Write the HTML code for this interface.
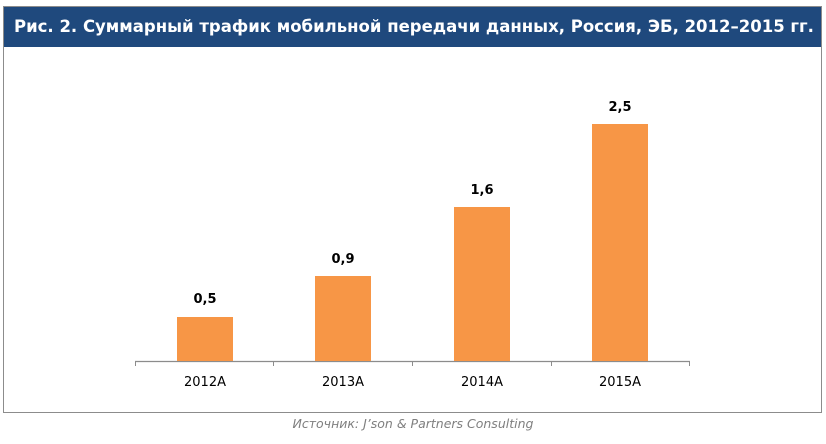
<!DOCTYPE html>
<html><head><meta charset="utf-8"><style>
body{margin:0;width:826px;height:444px;background:#fff;position:relative;overflow:hidden;font-family:"DejaVu Sans","Liberation Sans",sans-serif}
.frame{position:absolute;left:3px;top:6px;width:817px;height:405px;border:1px solid #8c8c8c}
.hdr{position:absolute;left:4px;top:7px;width:817px;height:40px;background:#1f497d;color:#fff;font-weight:bold;font-size:16.5px;line-height:40px;white-space:nowrap;text-indent:10px}
.bar{position:absolute;background:#f79646;width:56px}
.v{position:absolute;width:80px;text-align:center;font-weight:bold;font-size:13px;color:#000}
.x{position:absolute;width:100px;text-align:center;font-size:13px;color:#000;top:375px}
.src{position:absolute;left:0;width:826px;text-align:center;top:416px;font-style:italic;color:#7f7f7f;font-size:12.5px}
</style></head><body>
<div class="frame"></div>
<div class="hdr">Рис. 2. Суммарный трафик мобильной передачи данных, Россия, ЭБ, 2012–2015 гг.</div>
<svg style="position:absolute;left:0;top:0" width="826" height="444">
<line x1="135" y1="361.5" x2="690" y2="361.5" stroke="#8c8c8c" stroke-width="1.3"/>
<g stroke="#8c8c8c"><line x1="135.5" y1="361" x2="135.5" y2="366"/><line x1="273.5" y1="361" x2="273.5" y2="366"/><line x1="412.5" y1="361" x2="412.5" y2="366"/><line x1="551.5" y1="361" x2="551.5" y2="366"/><line x1="689.5" y1="361" x2="689.5" y2="366"/></g>
</svg>
<div class="bar" style="left:177px;top:317px;height:44px"></div>
<div class="bar" style="left:315px;top:276px;height:85px"></div>
<div class="bar" style="left:454px;top:207px;height:154px"></div>
<div class="bar" style="left:592px;top:124px;height:237px"></div>
<div class="v" style="left:165px;top:292px">0,5</div>
<div class="v" style="left:303px;top:252px">0,9</div>
<div class="v" style="left:442px;top:183px">1,6</div>
<div class="v" style="left:580px;top:100px">2,5</div>
<div class="x" style="left:155px">2012A</div>
<div class="x" style="left:293px">2013A</div>
<div class="x" style="left:432px">2014A</div>
<div class="x" style="left:570px">2015A</div>
<div class="src">Источник: J’son &amp; Partners Consulting</div>
</body></html>
